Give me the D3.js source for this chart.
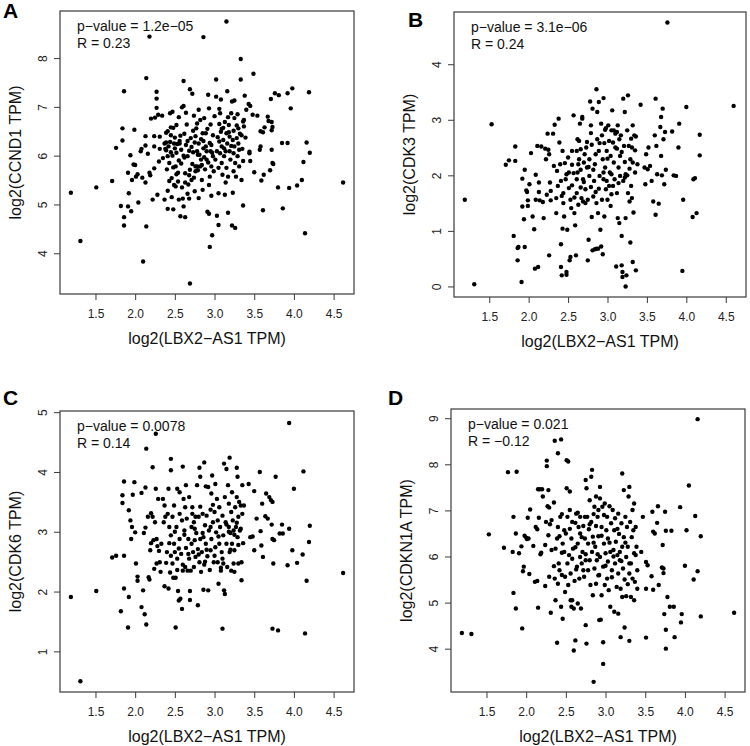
<!DOCTYPE html>
<html><head><meta charset="utf-8">
<script src="https://cdn.jsdelivr.net/npm/d3@7"></script>
<style>body{margin:0;background:#fff}svg{display:block}</style>
</head><body>
<script>
// ---------- DATA ----------
const xLabel = "log2(LBX2\u2212AS1 TPM)";
const genes = ["CCND1", "CDK3", "CDK6", "CDKN1A"];
const panelLetters = ["A", "B", "C", "D"];
const pValues = ["1.2e\u221205", "3.1e\u221206", "0.0078", "0.021"];
const rValues = ["0.23", "0.24", "0.14", "\u22120.12"];
const xTicks = [1.5, 2.0, 2.5, 3.0, 3.5, 4.0, 4.5];
const yTicksA = [4, 5, 6, 7, 8];
const yTicksB = [0, 1, 2, 3, 4];
const yTicksC = [1, 2, 3, 4, 5];
const yTicksD = [4, 5, 6, 7, 8, 9];

// [log2(LBX2-AS1 TPM), log2(gene TPM)]
const ccnd1 = [[1.19,5.24],[1.31,4.25],[1.51,5.35],[1.71,5.48],[1.76,6.16],[1.84,6.56],[1.84,6.31],[1.86,7.32],[1.82,4.97],[1.86,4.74],[1.86,4.57],[1.91,5.65],[1.91,4.96],[1.95,4.86],[1.92,5.23],[1.94,6.01],[1.99,6.53],[1.96,5.50],[1.98,5.82],[2.00,5.81],[2.01,5.57],[2.03,5.62],[2.04,5.04],[2.07,6.09],[2.08,6.14],[2.10,3.83],[2.09,5.55],[2.13,6.21],[2.13,6.40],[2.14,7.59],[2.13,5.45],[2.14,4.55],[2.16,6.04],[2.18,8.44],[2.18,5.65],[2.19,5.60],[2.20,6.76],[2.22,5.10],[2.24,6.40],[2.24,6.19],[2.24,5.74],[2.25,6.78],[2.27,6.98],[2.27,7.31],[2.27,7.17],[2.28,5.20],[2.29,6.84],[2.30,5.88],[2.31,6.14],[2.31,6.39],[2.34,6.82],[2.37,6.25],[2.37,5.10],[2.38,6.14],[2.39,6.47],[2.39,6.11],[2.40,5.72],[2.41,6.50],[2.41,4.91],[2.41,5.28],[2.41,5.99],[2.39,6.27],[2.42,6.19],[2.43,5.85],[2.43,5.48],[2.44,6.28],[2.44,6.87],[2.45,6.58],[2.45,6.07],[2.46,5.54],[2.46,5.15],[2.47,6.90],[2.47,6.00],[2.48,5.76],[2.48,6.57],[2.48,4.90],[2.49,6.25],[2.50,6.37],[2.49,5.40],[2.51,5.78],[2.51,5.37],[2.52,6.06],[2.52,6.63],[2.53,6.24],[2.54,5.47],[2.54,5.65],[2.55,6.79],[2.55,5.10],[2.56,6.25],[2.56,6.30],[2.57,4.76],[2.57,6.41],[2.58,5.84],[2.59,5.35],[2.59,6.99],[2.60,5.12],[2.61,7.53],[2.61,7.02],[2.61,4.96],[2.61,6.00],[2.62,5.96],[2.63,5.64],[2.63,5.45],[2.63,4.74],[2.64,6.22],[2.65,6.64],[2.66,5.99],[2.66,5.22],[2.67,5.41],[2.68,6.10],[2.68,5.12],[2.69,5.71],[2.69,3.38],[2.69,7.36],[2.70,6.36],[2.71,5.50],[2.72,5.83],[2.72,7.27],[2.73,6.51],[2.73,6.07],[2.74,6.82],[2.74,5.55],[2.75,5.27],[2.75,6.27],[2.76,5.78],[2.76,5.68],[2.77,6.56],[2.78,5.78],[2.78,6.09],[2.79,5.70],[2.80,5.13],[2.80,6.25],[2.80,6.94],[2.81,6.02],[2.82,5.78],[2.82,6.73],[2.83,6.34],[2.84,5.50],[2.84,5.81],[2.85,5.30],[2.85,6.46],[2.86,6.15],[2.86,8.43],[2.87,5.97],[2.87,6.77],[2.88,5.72],[2.89,6.19],[2.89,6.46],[2.90,5.92],[2.90,6.09],[2.91,4.85],[2.92,7.25],[2.92,5.86],[2.93,4.81],[2.93,6.97],[2.94,4.13],[2.94,6.26],[2.94,5.57],[2.95,6.64],[2.95,6.09],[2.96,5.78],[2.96,5.18],[2.97,4.37],[2.97,6.06],[2.98,6.42],[2.98,5.99],[2.99,5.68],[3.00,6.81],[3.02,7.21],[3.02,7.56],[3.03,4.77],[3.03,6.09],[3.05,4.58],[3.05,5.75],[3.05,5.23],[3.06,6.65],[3.06,6.29],[3.07,6.05],[3.07,6.87],[3.08,6.49],[3.08,7.15],[3.09,5.85],[3.09,6.19],[3.10,5.61],[3.11,6.57],[3.11,6.32],[3.12,5.99],[3.13,6.69],[3.13,5.20],[3.14,6.09],[3.15,5.75],[3.15,6.46],[3.15,8.75],[3.16,7.32],[3.16,6.25],[3.17,4.83],[3.17,6.79],[3.17,5.57],[3.18,6.63],[3.19,6.09],[3.19,6.39],[3.20,5.92],[3.21,6.87],[3.22,7.11],[3.22,4.57],[3.23,6.32],[3.23,5.24],[3.24,6.05],[3.24,6.51],[3.25,6.77],[3.25,6.19],[3.25,7.13],[3.26,4.52],[3.26,5.85],[3.27,5.57],[3.28,6.36],[3.29,5.99],[3.29,6.85],[3.30,6.56],[3.30,6.25],[3.31,6.12],[3.31,5.78],[3.33,7.98],[3.33,7.56],[3.34,6.42],[3.34,5.50],[3.35,6.14],[3.36,4.98],[3.36,6.70],[3.36,5.89],[3.37,6.60],[3.37,6.73],[3.38,7.23],[3.39,6.37],[3.40,6.94],[3.43,7.06],[3.45,7.02],[3.44,6.08],[3.44,6.05],[3.45,5.89],[3.49,7.68],[3.48,6.84],[3.54,6.82],[3.67,6.80],[3.68,6.71],[3.63,6.58],[3.72,6.69],[3.73,6.59],[3.72,6.52],[3.58,6.50],[3.61,6.48],[3.58,6.19],[3.57,6.12],[3.72,6.12],[3.73,5.85],[3.74,5.83],[3.70,5.70],[3.62,5.61],[3.59,5.49],[3.50,5.66],[3.71,7.16],[3.76,7.28],[3.81,7.24],[3.92,7.28],[3.98,7.38],[4.19,7.30],[3.96,6.97],[3.85,6.26],[3.92,6.26],[4.16,6.27],[4.20,6.06],[4.12,5.87],[4.10,5.50],[4.04,5.39],[3.94,5.34],[3.80,5.35],[3.86,4.92],[3.61,4.88],[4.14,4.41],[4.62,5.45],
[2.58,6.12],[2.62,6.45],[2.66,6.30],[2.71,6.18],[2.76,6.40],[2.79,6.02],[2.83,5.92],[2.86,6.30],[2.91,6.55],[2.96,6.22],[3.01,5.92],[3.04,6.38],[3.09,6.55],[3.12,6.15],[3.18,6.48],[3.21,6.20],[3.24,5.68],[3.28,6.62],[3.32,6.45],[2.55,5.90],[2.50,6.15],[2.45,6.42],[2.35,5.95],[2.68,5.60],[2.93,5.40],[3.14,5.45],[2.52,5.62],[2.78,6.66],[3.06,6.96],[2.64,6.88]];

const cdk3 = [[3.76,4.75],[1.19,1.56],[1.31,0.04],[1.53,2.92],[1.71,2.19],[1.75,2.27],[1.83,2.52],[1.83,2.26],[1.81,0.91],[1.86,0.69],[1.87,0.71],[1.86,0.47],[1.91,0.08],[1.92,1.44],[1.92,1.94],[1.94,1.21],[1.95,0.71],[1.95,2.10],[1.97,1.73],[1.98,1.70],[1.99,1.55],[1.99,1.45],[2.01,1.84],[2.03,2.40],[2.05,1.26],[2.07,1.03],[2.09,2.01],[2.08,0.32],[2.12,0.35],[2.09,1.56],[2.11,2.53],[2.13,1.87],[2.13,1.70],[2.14,1.55],[2.16,2.52],[2.18,1.52],[2.19,1.23],[2.21,2.48],[2.22,2.29],[2.23,1.65],[2.24,2.75],[2.25,2.46],[2.26,2.38],[2.26,0.56],[2.27,1.87],[2.28,1.72],[2.28,1.55],[2.31,2.75],[2.32,2.17],[2.33,2.91],[2.35,1.32],[2.35,1.59],[2.36,2.08],[2.37,1.81],[2.38,3.02],[2.39,2.59],[2.40,2.20],[2.41,1.90],[2.41,0.76],[2.41,0.35],[2.42,0.20],[2.43,1.04],[2.43,2.44],[2.44,1.68],[2.44,1.50],[2.45,1.26],[2.46,2.22],[2.47,1.93],[2.48,0.26],[2.48,0.21],[2.49,1.02],[2.50,2.32],[2.51,2.05],[2.51,1.77],[2.52,0.47],[2.53,0.53],[2.53,1.56],[2.54,1.41],[2.55,2.19],[2.55,2.44],[2.57,3.08],[2.57,2.04],[2.58,1.32],[2.59,1.10],[2.60,0.56],[2.61,1.68],[2.61,2.44],[2.61,1.93],[2.62,2.65],[2.63,2.20],[2.63,1.47],[2.64,2.62],[2.64,2.29],[2.65,2.93],[2.66,2.47],[2.66,2.10],[2.67,1.59],[2.68,3.05],[2.68,3.02],[2.69,1.53],[2.69,1.93],[2.70,2.23],[2.71,2.38],[2.72,1.75],[2.72,1.50],[2.73,2.50],[2.74,2.14],[2.75,0.47],[2.75,1.56],[2.76,0.84],[2.77,1.99],[2.77,2.29],[2.78,3.33],[2.79,2.76],[2.79,1.79],[2.79,2.90],[2.80,1.25],[2.80,2.55],[2.81,3.20],[2.81,0.65],[2.82,1.62],[2.82,2.10],[2.83,1.90],[2.84,0.67],[2.85,2.38],[2.86,3.55],[2.86,0.68],[2.86,1.50],[2.87,3.14],[2.87,2.65],[2.88,0.68],[2.88,1.32],[2.89,3.32],[2.89,1.76],[2.89,2.44],[2.90,1.99],[2.91,1.02],[2.92,0.72],[2.92,2.93],[2.93,2.72],[2.93,1.56],[2.94,0.58],[2.94,2.29],[2.95,3.39],[2.95,1.93],[2.96,1.26],[2.96,2.58],[2.97,2.14],[2.98,1.75],[2.98,2.85],[2.99,2.44],[2.99,1.90],[3.00,1.56],[3.01,2.90],[3.02,2.62],[3.02,1.81],[3.03,2.05],[3.04,2.35],[3.04,1.45],[3.05,2.81],[3.06,3.17],[3.07,1.81],[3.07,2.59],[3.08,2.23],[3.08,2.81],[3.09,1.93],[3.10,2.50],[3.11,0.36],[3.12,2.78],[3.12,1.68],[3.13,1.23],[3.13,2.90],[3.14,2.14],[3.15,2.65],[3.15,1.14],[3.16,1.99],[3.16,2.35],[3.17,2.72],[3.18,0.38],[3.18,0.91],[3.19,0.17],[3.19,0.26],[3.20,1.90],[3.20,3.38],[3.21,2.53],[3.22,3.14],[3.22,2.24],[3.23,0.00],[3.23,1.23],[3.23,2.02],[3.24,0.20],[3.25,2.81],[3.26,3.44],[3.26,1.68],[3.27,2.53],[3.28,2.12],[3.28,1.53],[3.29,2.29],[3.29,0.79],[3.30,1.81],[3.31,2.50],[3.31,1.59],[3.32,2.23],[3.32,2.90],[3.32,0.44],[3.33,1.33],[3.34,2.72],[3.35,2.05],[3.36,0.29],[3.36,2.70],[3.38,2.20],[3.42,3.27],[3.47,2.14],[3.48,1.84],[3.49,2.38],[3.51,2.11],[3.52,2.50],[3.54,2.17],[3.56,1.90],[3.58,1.53],[3.60,2.72],[3.61,1.29],[3.61,3.38],[3.62,2.53],[3.63,2.02],[3.65,1.49],[3.67,2.87],[3.68,3.05],[3.68,2.35],[3.69,2.00],[3.70,3.20],[3.71,2.65],[3.72,1.84],[3.73,2.78],[3.74,2.10],[3.82,2.79],[3.84,2.00],[3.87,1.99],[3.90,2.50],[3.91,2.93],[3.95,0.28],[3.96,1.56],[4.00,3.23],[4.08,1.25],[4.09,1.93],[4.11,1.95],[4.13,1.32],[4.17,2.73],[4.17,2.36],[4.60,3.25],
[2.55,1.82],[2.62,2.05],[2.70,1.88],[2.76,2.15],[2.84,2.20],[2.90,2.58],[2.95,2.05],[3.00,2.30],[3.05,2.02],[3.10,2.75],[3.14,1.86],[3.18,2.42],[3.25,2.00],[3.30,2.66],[2.48,2.02],[2.58,1.60],[2.66,1.78],[2.85,1.70],[3.05,1.66],[3.22,1.96],[2.42,1.63],[2.74,2.60],[2.97,2.82],[3.12,2.48],[3.35,2.45]];

const cdk6 = [[1.19,1.91],[1.31,0.50],[1.51,2.01],[1.71,2.57],[1.76,2.60],[1.82,1.67],[1.84,3.61],[1.84,3.48],[1.86,3.84],[1.86,2.60],[1.86,2.05],[1.91,1.40],[1.92,1.91],[1.92,3.36],[1.94,3.19],[1.95,2.88],[1.96,3.08],[1.97,3.62],[1.99,3.83],[2.00,2.99],[2.01,2.47],[2.03,2.25],[2.03,2.18],[2.08,3.65],[2.08,1.74],[2.10,2.02],[2.11,2.98],[2.12,1.62],[2.13,3.74],[2.13,3.07],[2.14,1.45],[2.14,4.39],[2.16,3.25],[2.17,2.24],[2.18,2.20],[2.19,2.69],[2.20,2.81],[2.20,3.31],[2.22,4.08],[2.22,3.25],[2.23,2.86],[2.24,2.38],[2.25,3.16],[2.26,4.64],[2.26,3.72],[2.27,2.47],[2.27,2.88],[2.28,2.76],[2.29,3.55],[2.30,2.68],[2.31,2.49],[2.32,2.33],[2.33,2.80],[2.35,3.55],[2.36,3.16],[2.37,3.44],[2.37,2.09],[2.38,3.25],[2.39,2.48],[2.40,2.66],[2.41,3.30],[2.42,2.05],[2.42,3.72],[2.43,3.08],[2.43,2.81],[2.44,2.32],[2.45,4.03],[2.45,4.22],[2.45,2.94],[2.47,3.25],[2.47,2.47],[2.48,2.23],[2.49,3.44],[2.49,2.80],[2.50,2.66],[2.51,2.23],[2.51,1.40],[2.52,3.08],[2.53,2.55],[2.53,3.72],[2.53,2.36],[2.54,2.01],[2.55,1.85],[2.56,3.30],[2.56,3.66],[2.56,2.88],[2.57,1.88],[2.58,2.63],[2.59,1.71],[2.59,3.19],[2.60,2.35],[2.60,4.09],[2.61,3.55],[2.62,3.02],[2.63,2.41],[2.63,3.41],[2.64,2.73],[2.64,3.78],[2.65,3.22],[2.66,2.35],[2.67,2.88],[2.67,2.63],[2.68,3.58],[2.69,2.01],[2.69,1.86],[2.70,2.35],[2.71,3.08],[2.71,2.80],[2.72,3.41],[2.73,2.66],[2.74,2.41],[2.74,3.16],[2.75,2.86],[2.76,2.58],[2.76,3.25],[2.77,2.98],[2.78,3.78],[2.79,1.77],[2.79,2.71],[2.80,3.25],[2.81,2.49],[2.81,4.07],[2.82,3.42],[2.82,2.88],[2.82,3.92],[2.83,2.33],[2.84,2.66],[2.85,3.30],[2.86,2.03],[2.86,2.91],[2.87,4.16],[2.87,2.45],[2.88,3.11],[2.89,3.76],[2.89,2.80],[2.90,3.27],[2.91,2.59],[2.92,2.02],[2.92,3.75],[2.93,3.02],[2.94,2.36],[2.95,3.37],[2.95,2.69],[2.96,3.64],[2.96,2.88],[2.97,3.94],[2.98,3.16],[2.99,2.49],[3.00,3.33],[3.01,2.74],[3.01,3.80],[3.02,2.99],[3.03,3.55],[3.04,3.19],[3.04,2.49],[3.05,2.13],[3.06,2.80],[3.06,3.41],[3.07,3.08],[3.08,2.35],[3.09,2.66],[3.10,1.38],[3.10,3.27],[3.11,2.94],[3.11,2.47],[3.12,4.14],[3.12,2.02],[3.13,1.96],[3.13,3.58],[3.14,3.16],[3.15,2.80],[3.15,4.05],[3.16,2.41],[3.17,3.78],[3.18,3.08],[3.18,3.47],[3.19,2.66],[3.19,4.24],[3.20,2.98],[3.21,2.35],[3.21,3.33],[3.22,3.66],[3.22,2.80],[3.23,3.19],[3.24,2.47],[3.24,3.02],[3.25,2.33],[3.25,2.69],[3.26,3.41],[3.27,3.08],[3.28,3.58],[3.28,4.07],[3.29,3.92],[3.29,2.91],[3.30,2.47],[3.30,3.25],[3.31,3.50],[3.32,3.02],[3.33,3.44],[3.34,2.49],[3.34,2.19],[3.35,3.30],[3.35,3.78],[3.36,2.81],[3.37,3.44],[3.43,3.80],[3.45,2.91],[3.48,2.92],[3.50,2.69],[3.50,3.68],[3.53,3.22],[3.57,4.00],[3.58,3.01],[3.59,2.77],[3.60,3.47],[3.61,2.58],[3.64,3.26],[3.65,3.64],[3.67,3.22],[3.69,3.58],[3.71,3.53],[3.72,3.12],[3.73,3.50],[3.73,2.88],[3.75,2.86],[3.73,1.38],[3.74,2.47],[3.77,3.92],[3.80,1.35],[3.82,2.97],[3.85,3.12],[3.86,2.97],[3.92,2.44],[3.94,3.05],[3.94,4.82],[3.98,2.69],[4.00,3.72],[4.04,2.48],[4.11,2.62],[4.12,4.01],[4.14,1.30],[4.16,2.18],[4.20,3.10],[4.19,2.83],[4.62,2.31],
[2.55,2.72],[2.62,2.95],[2.68,2.55],[2.75,3.05],[2.80,2.62],[2.85,2.98],[2.90,2.70],[2.95,3.08],[3.00,2.60],[3.05,2.92],[3.10,2.55],[3.15,3.12],[3.20,2.70],[3.25,2.95],[3.30,2.78],[2.50,3.00],[2.45,2.60],[2.72,3.30],[2.98,3.45],[3.18,3.00],[3.28,3.15],[2.60,2.45],[2.88,2.50],[3.08,2.40],[3.33,3.05]];

const cdkn1a = [[4.16,8.98],[1.19,4.34],[1.31,4.32],[1.53,6.48],[1.72,6.19],[1.77,7.83],[1.88,7.84],[1.84,5.21],[1.87,4.87],[1.84,6.86],[1.83,6.10],[1.87,6.50],[1.91,6.07],[1.94,6.22],[1.95,4.44],[1.96,5.68],[1.97,5.78],[1.98,6.45],[2.00,6.41],[2.01,6.38],[2.03,6.39],[2.02,6.84],[2.05,7.02],[2.04,5.62],[2.09,6.23],[2.11,5.45],[2.12,6.64],[2.14,6.59],[2.15,4.89],[2.14,5.47],[2.16,6.84],[2.15,7.46],[2.17,7.46],[2.20,7.46],[2.18,6.05],[2.19,6.08],[2.21,7.30],[2.24,5.36],[2.24,6.25],[2.25,6.75],[2.26,8.08],[2.26,7.96],[2.27,7.09],[2.28,7.44],[2.28,6.46],[2.29,5.56],[2.29,7.06],[2.30,6.70],[2.31,4.78],[2.32,6.14],[2.32,6.79],[2.35,7.17],[2.35,5.79],[2.36,8.51],[2.36,5.52],[2.37,5.05],[2.37,6.17],[2.39,4.13],[2.39,6.39],[2.40,6.64],[2.40,8.24],[2.40,5.41],[2.41,5.85],[2.42,6.44],[2.42,5.70],[2.43,6.86],[2.44,8.54],[2.44,4.91],[2.45,6.08],[2.45,6.92],[2.46,4.65],[2.46,6.28],[2.48,6.57],[2.49,5.56],[2.49,5.23],[2.50,6.50],[2.51,7.48],[2.51,8.09],[2.52,6.86],[2.52,5.85],[2.53,8.06],[2.53,5.38],[2.54,6.03],[2.55,7.41],[2.55,7.01],[2.56,5.05],[2.56,5.63],[2.57,6.39],[2.57,4.91],[2.58,6.75],[2.58,5.05],[2.59,6.17],[2.60,4.87],[2.60,3.96],[2.61,5.47],[2.62,6.73],[2.62,4.18],[2.63,5.72],[2.63,6.93],[2.64,5.78],[2.65,4.98],[2.65,6.28],[2.66,6.64],[2.67,5.52],[2.68,5.99],[2.68,6.86],[2.69,4.87],[2.70,6.42],[2.70,5.85],[2.71,6.10],[2.72,6.66],[2.73,5.56],[2.74,6.86],[2.74,6.39],[2.75,7.66],[2.75,4.51],[2.75,5.92],[2.76,4.11],[2.76,7.48],[2.77,6.86],[2.78,5.70],[2.78,6.28],[2.79,6.59],[2.80,7.22],[2.80,5.92],[2.81,5.38],[2.82,7.73],[2.82,6.75],[2.83,6.10],[2.83,7.88],[2.84,5.16],[2.84,6.43],[2.85,6.92],[2.85,3.28],[2.86,5.74],[2.86,7.08],[2.87,6.21],[2.88,6.66],[2.88,5.41],[2.88,7.30],[2.89,5.92],[2.90,6.86],[2.91,5.59],[2.91,6.44],[2.91,7.01],[2.92,4.62],[2.93,7.51],[2.93,5.99],[2.93,7.26],[2.94,4.63],[2.95,6.64],[2.95,5.16],[2.96,7.08],[2.97,4.14],[2.97,3.67],[2.97,5.78],[2.98,6.28],[2.99,5.38],[2.99,7.15],[3.00,6.07],[3.01,6.57],[3.02,5.52],[3.02,6.86],[3.03,5.89],[3.03,6.39],[3.04,5.27],[3.05,7.09],[3.06,6.10],[3.06,4.91],[3.07,6.72],[3.08,5.70],[3.09,7.01],[3.10,6.14],[3.11,4.80],[3.11,6.57],[3.12,5.85],[3.12,6.83],[3.13,6.32],[3.14,5.34],[3.15,6.03],[3.16,4.76],[3.16,6.93],[3.16,5.63],[3.17,6.49],[3.18,5.92],[3.19,5.30],[3.19,4.25],[3.20,6.72],[3.21,6.21],[3.21,7.80],[3.21,5.12],[3.22,5.74],[3.23,7.44],[3.23,6.42],[3.24,4.46],[3.24,5.50],[3.25,6.86],[3.26,5.99],[3.26,5.14],[3.27,6.64],[3.28,6.21],[3.29,7.30],[3.30,5.63],[3.30,4.17],[3.30,7.51],[3.31,6.75],[3.32,5.85],[3.32,5.12],[3.33,6.42],[3.34,7.01],[3.34,5.52],[3.35,6.57],[3.36,6.07],[3.36,5.05],[3.36,7.15],[3.37,5.45],[3.38,6.64],[3.38,6.03],[3.39,6.21],[3.40,5.30],[3.40,5.70],[3.47,6.86],[3.45,6.10],[3.51,5.30],[3.51,4.24],[3.51,5.88],[3.53,5.81],[3.58,5.57],[3.59,6.97],[3.60,5.28],[3.60,6.54],[3.62,6.50],[3.65,6.73],[3.66,7.09],[3.67,5.38],[3.71,5.76],[3.72,6.25],[3.73,5.64],[3.73,5.74],[3.74,4.75],[3.75,6.97],[3.76,4.00],[3.76,4.41],[3.76,6.56],[3.78,5.12],[3.81,4.91],[3.83,6.56],[3.86,4.91],[3.87,4.25],[3.94,7.07],[3.95,4.57],[3.96,4.75],[4.00,5.80],[4.02,6.57],[4.05,7.54],[4.11,5.50],[4.13,6.88],[4.16,5.68],[4.20,6.44],[4.20,4.70],[4.62,4.78],
[2.55,6.60],[2.62,6.20],[2.68,6.50],[2.75,6.05],[2.80,6.70],[2.85,6.30],[2.90,6.05],[2.95,6.45],[3.00,5.80],[3.05,6.30],[3.10,6.00],[3.15,6.60],[3.20,5.90],[3.25,6.30],[3.30,5.85],[2.48,6.10],[2.58,5.95],[2.72,5.70],[2.92,5.60],[3.08,5.55],[3.18,6.10],[2.45,5.60],[2.65,6.95],[2.98,6.90],[3.28,5.40]];

const seriesList = [ccnd1, cdk3, cdk6, cdkn1a];
const yTickList = [yTicksA, yTicksB, yTicksC, yTicksD];

// ---------- LAYOUT ----------
const xDomain = [1.053, 4.757];
const yDomains = [[3.165, 8.965], [-0.19, 4.94], [0.32, 5.02], [3.06, 9.20]];
const boxes = [
  {x0: 60,  x1: 354, y0: 11,  y1: 294},
  {x0: 454, x1: 746, y0: 12,  y1: 297},
  {x0: 60,  x1: 354, y0: 411, y1: 692},
  {x0: 451, x1: 745, y0: 409, y1: 692}
];
const letterPos = [[3, 18], [408, 27], [3, 405], [388, 405]];
const FONT = "'Liberation Sans', Arial, Helvetica, sans-serif";

const svg = d3.select("body").append("svg")
  .attr("width", 750).attr("height", 746)
  .style("font-family", FONT);

seriesList.forEach((data, i) => {
  const b = boxes[i];
  const x = d3.scaleLinear().domain(xDomain).range([b.x0, b.x1]);
  const y = d3.scaleLinear().domain(yDomains[i]).range([b.y1, b.y0]);
  const g = svg.append("g");

  // points
  g.append("g").selectAll("circle").data(data).join("circle")
    .attr("cx", d => x(d[0])).attr("cy", d => y(d[1]))
    .attr("r", 2.2).attr("fill", "#000");

  // box
  g.append("rect")
    .attr("x", b.x0).attr("y", b.y0)
    .attr("width", b.x1 - b.x0).attr("height", b.y1 - b.y0)
    .attr("fill", "none").attr("stroke", "#3a3a3a").attr("stroke-width", 1.2);

  // x axis
  const xa = g.append("g").attr("transform", `translate(0,${b.y1})`)
    .call(d3.axisBottom(x).tickValues(xTicks).tickFormat(d3.format(".1f")).tickSize(6).tickPadding(9));
  xa.select(".domain").remove();
  xa.attr("font-family", FONT).attr("font-size", 12);
  xa.selectAll("line").attr("stroke", "#3a3a3a");
  xa.selectAll("text").attr("fill", "#222");

  // y axis
  const ya = g.append("g").attr("transform", `translate(${b.x0},0)`)
    .call(d3.axisLeft(y).tickValues(yTickList[i]).tickFormat(d3.format("d")).tickSize(6));
  ya.select(".domain").remove();
  ya.attr("font-family", FONT).attr("font-size", 12);
  ya.selectAll("line").attr("stroke", "#3a3a3a");
  ya.selectAll("text")
    .attr("x", null).attr("dy", null)
    .attr("text-anchor", "middle")
    .attr("transform", "translate(-17,0) rotate(-90)")
    .attr("dy", "0.36em")
    .attr("fill", "#222");

  // axis titles
  g.append("text")
    .attr("x", (b.x0 + b.x1) / 2).attr("y", b.y1 + 49.5)
    .attr("text-anchor", "middle").attr("font-size", 16).attr("fill", "#111")
    .text(xLabel);
  g.append("text")
    .attr("transform", `translate(${b.x0 - 43},${(b.y0 + b.y1) / 2}) rotate(-90)`)
    .attr("dy", "0.26em")
    .attr("text-anchor", "middle").attr("font-size", 16).attr("fill", "#111")
    .text(`log2(${genes[i]} TPM)`);

  // stats
  g.append("text").attr("x", b.x0 + 17).attr("y", b.y0 + 20)
    .attr("font-size", 14).attr("fill", "#111")
    .text(`p\u2212value = ${pValues[i]}`);
  g.append("text").attr("x", b.x0 + 17).attr("y", b.y0 + 36.5)
    .attr("font-size", 14).attr("fill", "#111")
    .text(`R = ${rValues[i]}`);

  // panel letter
  svg.append("text")
    .attr("x", letterPos[i][0]).attr("y", letterPos[i][1])
    .attr("font-size", 21).attr("font-weight", "bold").attr("fill", "#000")
    .text(panelLetters[i]);
});
</script>
</body></html>
